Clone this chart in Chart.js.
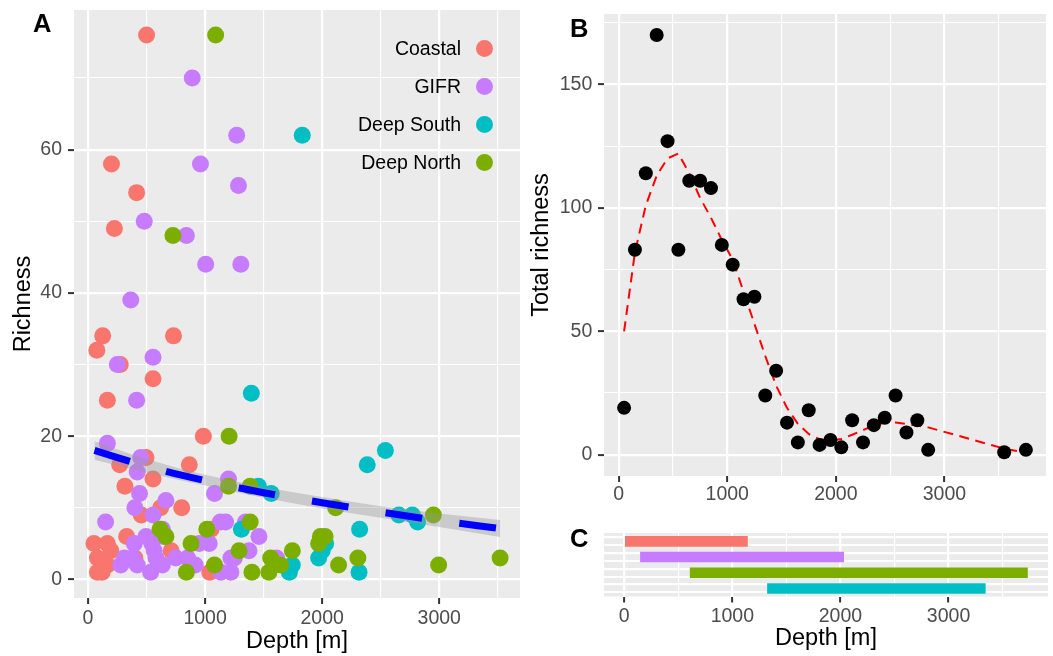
<!DOCTYPE html>
<html lang="en">
<head>
<meta charset="UTF-8">
<title>Richness by depth</title>
<script src="https://cdn.jsdelivr.net/npm/chart.js"></script>
<style>
  html, body { margin: 0; padding: 0; background: #ffffff; }
  .figure {
    position: relative;
    width: 1053px;
    height: 656px;
    overflow: hidden;
    font-family: "Liberation Sans", Arial, Helvetica, sans-serif;
  }
  .figure canvas { position: absolute; }
  #panelA { left: 0; top: 0; }
  #panelB { left: 520px; top: 0; }
  #panelC { left: 520px; top: 520px; }
  .tag { position: absolute; font-size: 25.5px; font-weight: bold; line-height: 30px; color: #000; }
  .key-label { position: absolute; font-size: 19.5px; line-height: 24px; color: #000; white-space: nowrap; text-align: right; }
  .key-dot { position: absolute; width: 17px; height: 17px; border-radius: 50%; }
</style>
</head>
<body>
<div class="figure">
  <canvas id="panelA" width="530" height="656"></canvas>
  <canvas id="panelB" width="533" height="515"></canvas>
  <canvas id="panelC" width="533" height="136"></canvas>
  <div class="tag" style="left:33px;top:8px">A</div>
  <div class="tag" style="left:570px;top:13px">B</div>
  <div class="tag" style="left:570px;top:523px">C</div>
  <div id="keyA"></div>
</div>

<script>
    // ---- Panel A: richness per station, coloured by region ----
    const groups = ['Coastal', 'GIFR', 'Deep South', 'Deep North'];
    const groupColors = ['#F8766D', '#C77CFF', '#00BFC4', '#7CAE00'];

    const coastalDepth = [500, 200, 415, 225, 125, 75, 730, 275, 555, 165, 985, 495, 270, 865, 555, 315, 620, 800, 455, 1050, 330, 50, 165, 195, 80, 165, 80, 120, 710, 1040, 400];
    const coastalRich  = [76, 58, 54, 49, 34, 32, 34, 30, 28, 25, 20, 17, 16, 16, 14, 13, 10, 10, 9, 7, 6, 5, 5, 4, 3, 2, 1, 1, 4, 1, 3];

    const gifrDepth = [890, 1270, 960, 1285, 480, 840, 1005, 1305, 365, 555, 250, 415, 165, 450, 420, 440, 1080, 1200, 400, 665, 555, 150, 1130, 635, 395, 495, 565, 310, 420, 535, 635, 750, 950, 1035, 850, 915, 1135, 1220, 1220, 1460, 1375, 1250, 1610, 1345, 1175, 280, 380, 580, 545, 645];
    const gifrRich  = [70, 62, 58, 55, 50, 48, 44, 44, 39, 31, 30, 25, 19, 17, 15, 12, 12, 14, 10, 11, 9, 8, 8, 7, 5, 6, 4, 3, 2, 1, 2, 3, 5, 5, 3, 2, 1, 3, 1, 6, 4, 3, 3, 8, 8, 2, 3, 3, 5, 6];

    const southDepth = [1830, 1395, 2540, 2385, 1455, 1565, 2655, 2770, 2815, 2320, 1310, 1745, 1720, 2030, 1970, 2000, 2315];
    const southRich  = [62, 26, 18, 16, 13, 12, 9, 9, 8, 7, 7, 2, 1, 5, 3, 4, 1];

    const northDepth = [1090, 725, 1205, 1200, 1385, 2115, 2950, 1385, 1015, 615, 665, 880, 1290, 840, 1080, 1400, 1560, 1545, 1645, 1745, 1985, 2025, 1970, 2140, 2305, 2995, 3520];
    const northRich  = [76, 48, 20, 13, 13, 10, 9, 8, 7, 7, 6, 5, 4, 1, 2, 1, 3, 1, 2, 4, 6, 6, 5, 2, 3, 2, 3];

    // fitted trend with its confidence band
    const trendDepth = [55, 500, 1000, 1500, 2000, 2500, 3000, 3520];
    const trendRich  = [18.0, 15.8, 13.8, 12.1, 10.7, 9.4, 8.2, 7.1];
    const trendLow   = [16.7, 14.9, 13.1, 11.4, 9.9, 8.6, 7.3, 5.9];
    const trendHigh  = [19.3, 16.8, 14.6, 12.9, 11.5, 10.2, 9.2, 8.3];

    const depthMajor = [0, 1000, 2000, 3000];
    const depthMinor = [500, 1500, 2500, 3500];
    const richMajorA = [0, 20, 40, 60];
    const richMinorA = [10, 30, 50, 70];

    // ---- Panel B: total richness per 100 m depth bin ----
    const binDepth  = [50, 150, 250, 350, 450, 550, 650, 750, 850, 950, 1050, 1150, 1250, 1350, 1450, 1550, 1650, 1750, 1850, 1950, 2050, 2150, 2250, 2350, 2450, 2550, 2650, 2750, 2850, 3550, 3750];
    const totalRich = [19, 83, 114, 170, 127, 83, 111, 111, 108, 85, 77, 63, 64, 24, 34, 13, 5, 18, 4, 6, 3, 14, 5, 12, 15, 24, 9, 14, 2, 1, 2];
    const fitRich   = [50, 82, 101, 113, 120, 122, 114, 104, 96, 87, 79, 66, 53, 40, 28, 19, 12.5, 8.4, 6.3, 5.8, 6.4, 8.1, 10, 11.8, 13.1, 13.1, 12.5, 11.8, 11.1, 2.5, 0.8];
    const richMajorB = [0, 50, 100, 150];
    const richMinorB = [25, 75, 125, 175];

    // ---- Panel C: depth range sampled in each region ----
    const rangeGroups = ['Coastal', 'GIFR', 'Deep North', 'Deep South'];
    const rangeColors = ['#F8766D', '#C77CFF', '#7CAE00', '#00BFC4'];
    const rangeLane   = [1, 2, 3, 4];
    const rangeStart  = [0, 150, 610, 1325];
    const rangeEnd    = [1140, 2030, 3730, 3340];

    const FONT = '"Liberation Sans", Arial, Helvetica, sans-serif';
    Chart.defaults.font.family = FONT;

    function pairs(xs, ys) {
        return xs.map((x, i) => ({ x: x, y: ys[i] }));
    }

    // grey panel behind the grid
    const panelBg = {
        id: 'panelBg',
        beforeDraw(chart) {
            const a = chart.chartArea;
            const ctx = chart.ctx;
            ctx.save();
            ctx.fillStyle = '#EBEBEB';
            ctx.fillRect(a.left, a.top, a.right - a.left, a.bottom - a.top);
            ctx.restore();
        }
    };

    // linear axis with fixed major/minor breaks and a fixed thickness
    function linearAxis(cfg) {
        const all = cfg.major.concat(cfg.minor || []).sort((a, b) => a - b);
        const isMajor = v => cfg.major.indexOf(v) !== -1;
        const showTicks = cfg.ticks !== false;
        return {
            type: 'linear',
            position: cfg.position,
            min: cfg.min,
            max: cfg.max,
            reverse: !!cfg.reverse,
            afterBuildTicks: s => { s.ticks = all.map(v => ({ value: v })); },
            afterFit: s => {
                if (s.isHorizontal()) s.height = cfg.size; else s.width = cfg.size;
                s.paddingTop = 0; s.paddingBottom = 0; s.paddingLeft = 0; s.paddingRight = 0;
            },
            border: { display: false },
            grid: {
                color: '#FFFFFF',
                lineWidth: c => (c.tick && isMajor(c.tick.value)) ? 2.2 : (cfg.minorWidth || 1.1),
                drawTicks: showTicks,
                tickLength: 6,
                tickWidth: 2,
                tickColor: c => (c.tick && isMajor(c.tick.value)) ? '#333333' : 'rgba(0,0,0,0)'
            },
            ticks: {
                display: showTicks,
                autoSkip: false,
                maxRotation: 0,
                minRotation: 0,
                padding: cfg.pad || 0,
                color: '#4D4D4D',
                font: { family: FONT, size: 19.5 },
                callback: v => isMajor(v) ? String(v) : ''
            },
            title: cfg.title ? {
                display: true,
                text: cfg.title,
                color: '#000000',
                font: { family: FONT, size: 23.5, lineHeight: 1.2 },
                padding: cfg.titlePad
            } : { display: false }
        };
    }

    const baseOptions = {
        responsive: false,
        animation: false,
        events: [],
        plugins: { legend: { display: false }, tooltip: { enabled: false } }
    };

    function pointSet(xs, ys, color, order) {
        return {
            data: pairs(xs, ys),
            backgroundColor: color,
            borderColor: color,
            pointRadius: 8.5,
            pointBorderWidth: 0,
            order: order
        };
    }

    // Panel A
    new Chart(document.getElementById('panelA'), {
        type: 'scatter',
        data: {
            datasets: [
                {
                    type: 'line',
                    data: pairs(trendDepth, trendRich),
                    borderColor: '#0000FF',
                    borderWidth: 7,
                    borderDash: [37, 37.5],
                    borderCapStyle: 'butt',
                    pointRadius: 0,
                    fill: false,
                    cubicInterpolationMode: 'monotone',
                    order: 0
                },
                {
                    type: 'line',
                    data: pairs(trendDepth, trendHigh),
                    borderColor: 'rgba(0,0,0,0)',
                    borderWidth: 0,
                    pointRadius: 0,
                    fill: '+1',
                    backgroundColor: 'rgba(153,153,153,0.4)',
                    cubicInterpolationMode: 'monotone',
                    order: 1
                },
                {
                    type: 'line',
                    data: pairs(trendDepth, trendLow),
                    borderColor: 'rgba(0,0,0,0)',
                    borderWidth: 0,
                    pointRadius: 0,
                    fill: false,
                    cubicInterpolationMode: 'monotone',
                    order: 1
                },
                pointSet(northDepth, northRich, groupColors[3], 2),
                pointSet(southDepth, southRich, groupColors[2], 3),
                pointSet(gifrDepth, gifrRich, groupColors[1], 4),
                pointSet(coastalDepth, coastalRich, groupColors[0], 5)
            ]
        },
        options: Object.assign({}, baseOptions, {
            layout: { padding: { top: 10, right: 10, left: 0, bottom: 0 } },
            scales: {
                x: linearAxis({ position: 'bottom', min: -120, max: 3690, major: depthMajor, minor: depthMinor,
                                size: 58, pad: 2.5, title: 'Depth [m]', titlePad: { top: 0, bottom: 0 } }),
                y: linearAxis({ position: 'left', min: -2.6, max: 79.5, major: richMajorA, minor: richMinorA,
                                size: 74, pad: 6, title: 'Richness', titlePad: { top: 9.5, bottom: 0 } })
            }
        }),
        plugins: [panelBg]
    });

    // legend inside panel A
    const keyBox = document.getElementById('keyA');
    groups.forEach((g, i) => {
        const cy = 48 + i * 38;
        const label = document.createElement('div');
        label.className = 'key-label';
        label.style.right = (1053 - 461) + 'px';
        label.style.top = (cy - 12) + 'px';
        label.textContent = g;
        const dot = document.createElement('div');
        dot.className = 'key-dot';
        dot.style.left = (484 - 8.5) + 'px';
        dot.style.top = (cy - 8.5) + 'px';
        dot.style.background = groupColors[i];
        keyBox.appendChild(label);
        keyBox.appendChild(dot);
    });

    // Panel B
    new Chart(document.getElementById('panelB'), {
        type: 'scatter',
        data: {
            datasets: [
                {
                    data: pairs(binDepth, totalRich),
                    backgroundColor: '#000000',
                    borderColor: '#000000',
                    pointRadius: 7,
                    pointBorderWidth: 0,
                    order: 0
                },
                {
                    type: 'line',
                    data: pairs(binDepth, fitRich),
                    borderColor: '#FF0000',
                    borderWidth: 2,
                    borderDash: [10, 6.5],
                    pointRadius: 0,
                    fill: false,
                    tension: 0,
                    order: 1
                }
            ]
        },
        options: Object.assign({}, baseOptions, {
            layout: { padding: { top: 14, right: 5, left: 0, bottom: 0 } },
            scales: {
                x: linearAxis({ position: 'bottom', min: -135, max: 3935, major: depthMajor, minor: depthMinor,
                                size: 39, pad: 1.2 }),
                y: linearAxis({ position: 'left', min: -8.6, max: 178.5, major: richMajorB, minor: richMinorB,
                                size: 84, pad: 5.7, title: 'Total richness', titlePad: { top: 7.8, bottom: 0 } })
            }
        }),
        plugins: [panelBg]
    });

    // Panel C
    new Chart(document.getElementById('panelC'), {
        type: 'bar',
        data: {
            labels: rangeGroups,
            datasets: [{
                data: rangeLane.map((lane, i) => ({ x: [rangeStart[i], rangeEnd[i]], y: lane })),
                backgroundColor: rangeColors,
                borderWidth: 0,
                barThickness: 10,
                clip: false
            }]
        },
        options: Object.assign({}, baseOptions, {
            indexAxis: 'y',
            layout: { padding: { top: 13, right: 5, left: 0, bottom: 0 } },
            scales: {
                x: linearAxis({ position: 'bottom', min: -187, max: 3920, major: depthMajor, minor: depthMinor,
                                size: 59.5, pad: 2.3, title: 'Depth [m]', titlePad: { top: 0, bottom: 3.2 } }),
                y: linearAxis({ position: 'left', min: 0.76, max: 4.22, reverse: true,
                                major: [1, 2, 3, 4], minor: [1.5, 2.5, 3.5], minorWidth: 2,
                                size: 84, ticks: false })
            }
        }),
        plugins: [panelBg]
    });
</script>
</body>
</html>
